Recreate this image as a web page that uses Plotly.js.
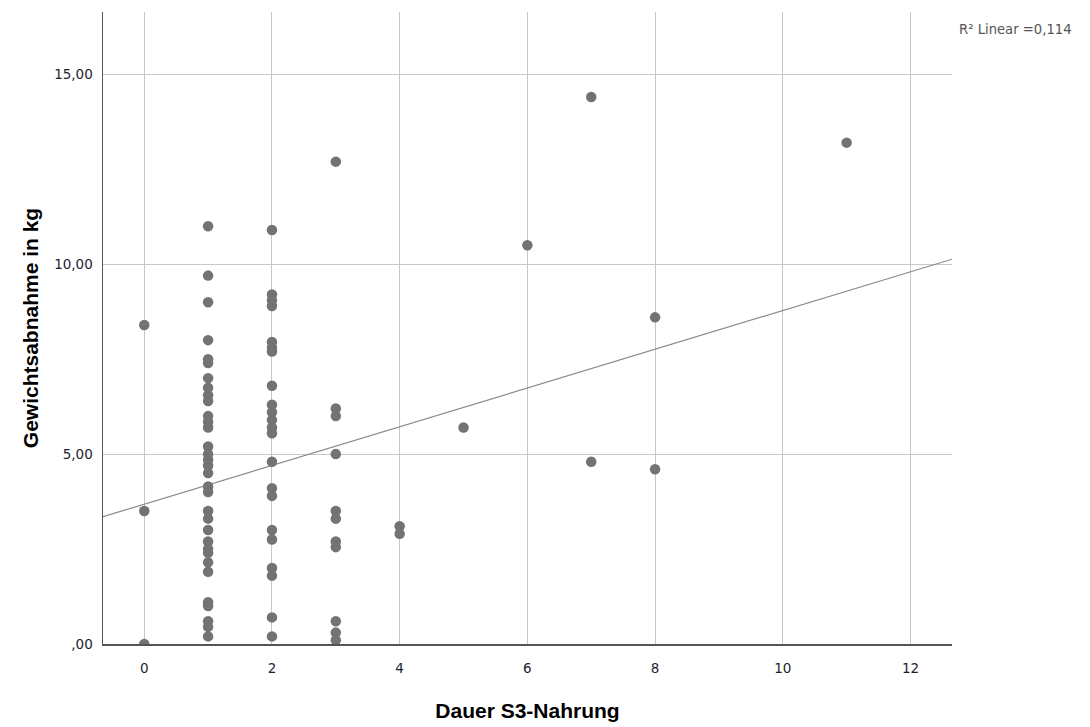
<!DOCTYPE html>
<html>
<head>
<meta charset="utf-8">
<script src="https://cdn.plot.ly/plotly-3.0.1.min.js"></script>
<style>html,body{margin:0;padding:0;background:#fff;}#chart{width:1090px;height:727px;}</style>
</head>
<body>
<div id="chart"></div>
<script>
// Dauer S3-Nahrung (x) and Gewichtsabnahme in kg (y)
const dauer = [
  0,0,0,
  1,1,1,1,1,1,1,1,1,1,1,1,1,1,1,1,1,1,1,1,1,1,1,1,1,1,1,1,1,1,1,1,1,
  2,2,2,2,2,2,2,2,2,2,2,2,2,2,2,2,2,2,2,2,2,2,
  3,3,3,3,3,3,3,3,3,3,3,
  4,4,
  5,
  6,
  7,7,
  8,8,
  11
];
const gewichtsabnahme = [
  8.4, 3.5, 0.0,
  11.0, 9.7, 9.0, 8.0, 7.5, 7.4, 7.0, 6.75, 6.55, 6.4, 6.0, 5.85, 5.7, 5.2, 5.0, 4.85, 4.7, 4.5, 4.15, 4.0, 3.5, 3.3, 3.0, 2.7, 2.5, 2.4, 2.15, 1.9, 1.1, 1.0, 0.6, 0.45, 0.2,
  10.9, 9.2, 9.05, 8.9, 7.95, 7.8, 7.7, 6.8, 6.3, 6.1, 5.9, 5.7, 5.55, 4.8, 4.1, 3.9, 3.0, 2.75, 2.0, 1.8, 0.7, 0.2,
  12.7, 6.2, 6.0, 5.0, 3.5, 3.3, 2.7, 2.55, 0.6, 0.3, 0.1,
  3.1, 2.9,
  5.7,
  10.5,
  14.4, 4.8,
  8.6, 4.6,
  13.2
];
// linear fit line as drawn in the picture (R² = 0,114)
const fitIntercept = 3.68;
const fitSlope = 0.51;
const xTickVals = [0, 2, 4, 6, 8, 10, 12];
const xTickText = ["0", "2", "4", "6", "8", "10", "12"];
const yTickVals = [0, 5, 10, 15];
const yTickText = [",00", "5,00", "10,00", "15,00"];
const r2Label = "R² Linear =0,114";

const xRange = [-0.646, 12.65];
const yRange = [0, 16.64];
const fitX = xRange.slice();
const fitY = fitX.map(v => fitIntercept + fitSlope * v);

const font = "Liberation Sans, Arial, Helvetica, sans-serif";
const tickFont = "DejaVu Sans, Liberation Sans, sans-serif";

const traces = [
  {
    x: fitX, y: fitY, type: 'scatter', mode: 'lines',
    line: {color: '#8a8a8a', width: 1.2}, hoverinfo: 'skip', showlegend: false
  },
  {
    x: dauer, y: gewichtsabnahme, type: 'scatter', mode: 'markers',
    marker: {color: '#737373', size: 10.5, line: {width: 0}}, showlegend: false, cliponaxis: true
  }
];

const layout = {
  width: 1090, height: 727,
  paper_bgcolor: '#ffffff', plot_bgcolor: '#ffffff',
  margin: {l: 103, r: 138, t: 12, b: 83},
  font: {family: font, color: '#222'},
  xaxis: {
    range: xRange, tickvals: xTickVals, ticktext: xTickText,
    showgrid: true, gridcolor: '#c8c8c8', gridwidth: 1, zeroline: false,
    showline: true, linecolor: '#555', linewidth: 1.5,
    ticks: '', ticklabelstandoff: 11,
    tickfont: {size: 13.5, color: '#1e1e2e', family: tickFont},
    title: {text: 'Dauer S3-Nahrung', font: {size: 21, color: '#000', family: font, weight: 'bold'}, standoff: 28},
    automargin: false, fixedrange: true
  },
  yaxis: {
    range: yRange, tickvals: yTickVals, ticktext: yTickText,
    showgrid: true, gridcolor: '#c8c8c8', gridwidth: 1, zeroline: false,
    showline: true, linecolor: '#555', linewidth: 1.5,
    ticks: '', ticklabelstandoff: 6,
    tickfont: {size: 13.5, color: '#1e1e2e', family: tickFont},
    title: {text: 'Gewichtsabnahme in kg', font: {size: 21, color: '#000', family: font, weight: 'bold'}, standoff: 10},
    automargin: false, fixedrange: true
  },
  annotations: [{
    text: r2Label, xref: 'paper', yref: 'paper', x: 1.006, y: 0.973,
    xanchor: 'left', yanchor: 'middle', showarrow: false,
    font: {size: 13.2, color: '#555', family: tickFont}
  }]
};

Plotly.newPlot('chart', traces, layout, {displayModeBar: false, staticPlot: true});
</script>
</body>
</html>
